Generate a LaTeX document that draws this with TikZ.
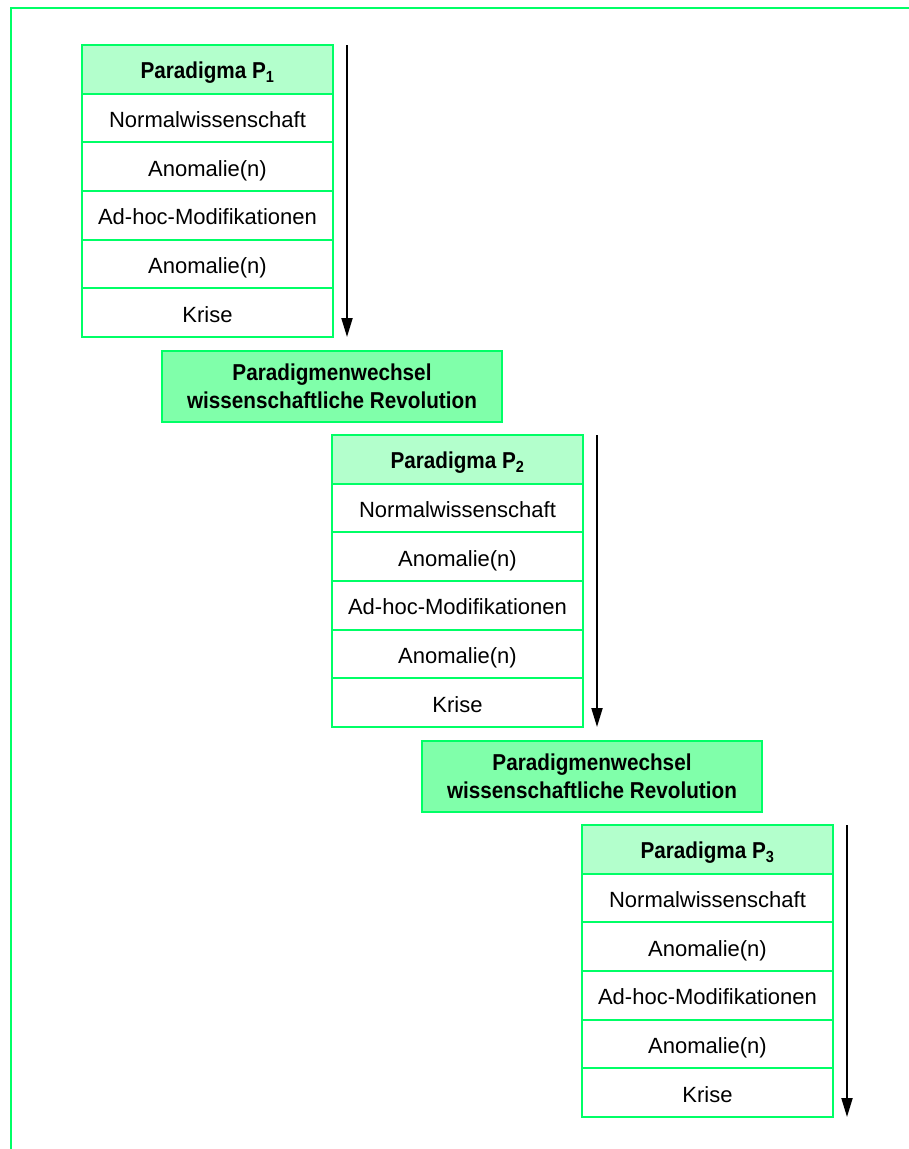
\documentclass[tikz,border=0pt]{standalone}
\usepackage{fontspec}
\setmainfont{Liberation Sans}[BoldFeatures={FakeStretch=0.9}]
\usetikzlibrary{arrows.meta}
\definecolor{kgreen}{RGB}{0,255,102}
\definecolor{headfill}{RGB}{179,255,204}
\definecolor{revfill}{RGB}{128,255,170}
\begin{document}
\begin{tikzpicture}[x=1pt,y=-1pt,
  cell/.style={draw=kgreen,line width=2pt,fill=white,minimum width=251pt,minimum height=48.67pt,
    anchor=north west,inner sep=0pt,outer sep=0pt,text height=20pt,text depth=1.2pt,
    font=\fontsize{22}{26}\selectfont},
  headcell/.style={cell,fill=headfill,font=\fontsize{23}{26}\selectfont\bfseries},
  revbox/.style={draw=kgreen,line width=2pt,fill=revfill,minimum width=340pt,minimum height=71pt,
    anchor=north west,inner sep=0pt,outer sep=0pt,align=center,font=\fontsize{23}{28}\selectfont\bfseries},
  flow/.style={line width=2pt,-{Triangle[length=19pt,width=11pt]}}]
\useasboundingbox (0,0) rectangle (909,1149);
% outer frame: left and top edges only
\draw[kgreen,line width=2pt] (10.5,1149) -- (10.5,7.5) -- (909,7.5);

% the three paradigm stacks, each with its time arrow
\foreach \k/\x/\y in {1/82/45,2/332/435,3/582/825}{
  \node[headcell] (h\k) at (\x,\y) {Paradigma P\textsubscript{\k}};
  \node[cell] (nw\k) at (h\k.south west) {Normalwissenschaft};
  \node[cell] (an\k) at (nw\k.south west) {Anomalie(n)};
  \node[cell] (ad\k) at (an\k.south west) {Ad-hoc-Modifikationen};
  \node[cell] (ab\k) at (ad\k.south west) {Anomalie(n)};
  \node[cell] (kr\k) at (ab\k.south west) {Krise};
  \coordinate (s\k) at (\x+265,\y);
  \coordinate (e\k) at (\x+265,\y+292);
  \draw[flow] (s\k) -- (e\k);
}

% paradigm shifts between the stacks
\node[revbox] (r1) at (162,351) {Paradigmenwechsel\\wissenschaftliche Revolution};
\node[revbox] (r2) at (422,741) {Paradigmenwechsel\\wissenschaftliche Revolution};
\end{tikzpicture}
\end{document}
